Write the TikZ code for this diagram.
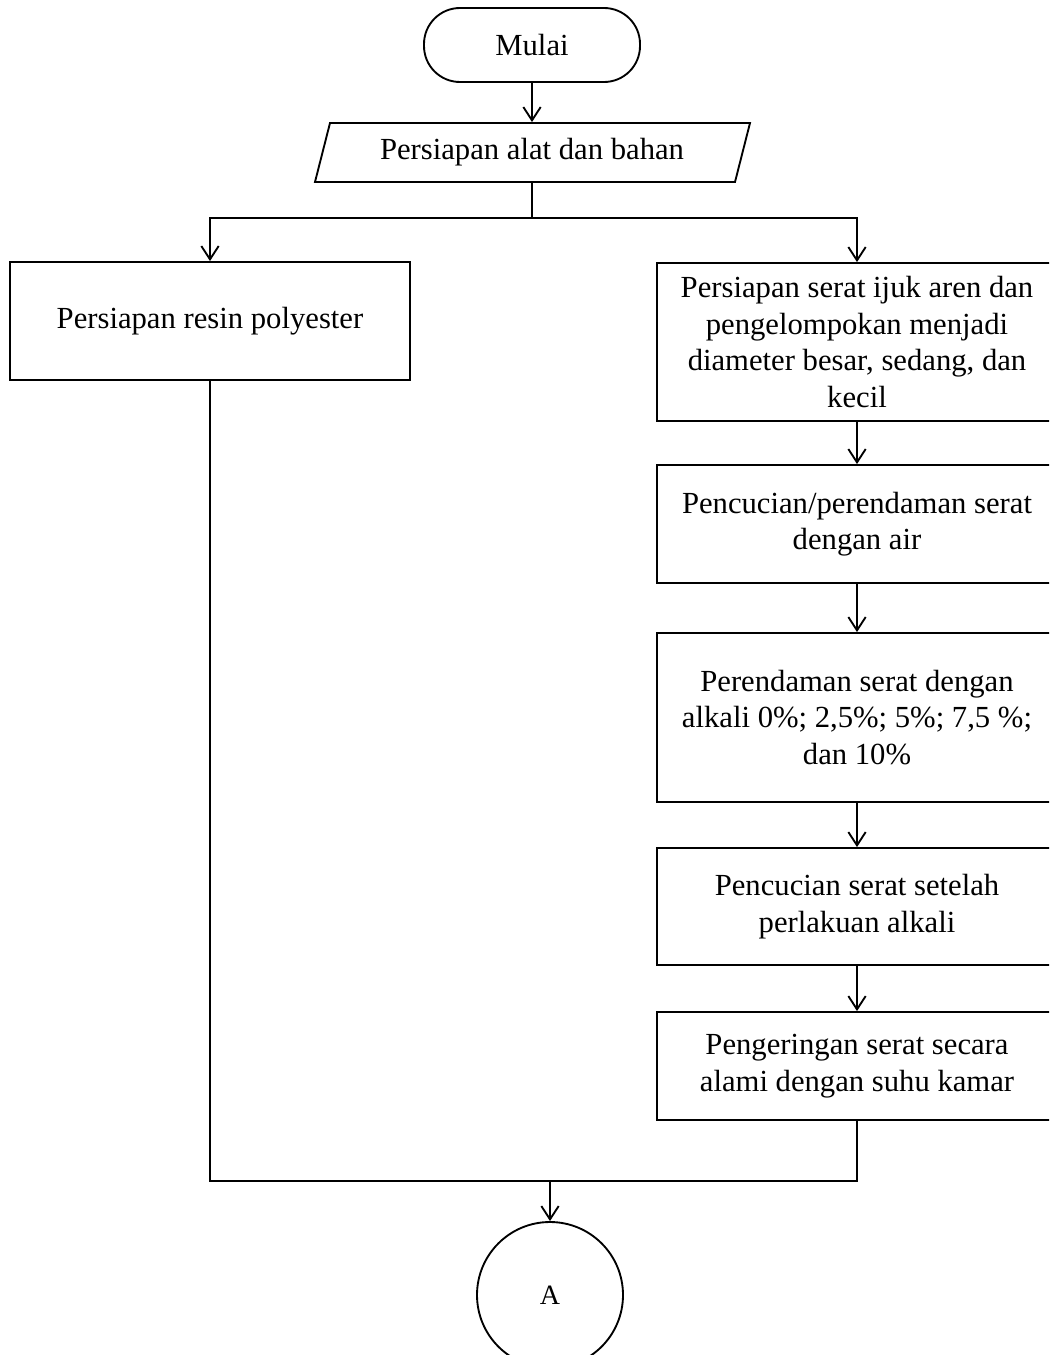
\documentclass[tikz,border=0pt]{standalone}
\usepackage{fontspec}
\setmainfont{Liberation Serif}
\usetikzlibrary{arrows.meta}
\begin{document}
\begin{tikzpicture}[x=0.75pt,y=-0.75pt,
  line width=1.4pt,
  arr/.style={-{Straight Barb[length=10pt,width=13pt,line width=1.4pt]}},
  txt/.style={font=\fontsize{23}{27.5}\selectfont, align=center, inner sep=0pt},
  box/.style={txt, draw, rectangle, minimum width=300pt},
  term/.style={txt, draw, rectangle, rounded corners=27pt, minimum width=162pt, minimum height=55.5pt},
  conn/.style={txt, draw, circle, minimum size=109.5pt, font=\fontsize{21}{25}\selectfont}
]
\useasboundingbox (0,0) rectangle (1049,1355);
\clip (0,0) rectangle (1049,1355);

\node[term] (mulai) at (532,45) {Mulai};

\node[txt, minimum width=315pt, minimum height=44.25pt] (par) at (532,152.5) {Persiapan alat dan bahan};
\draw (330,123) -- (750,123) -- (735,182) -- (315,182) -- cycle;

\node[box, minimum height=88.5pt] (left) at (210,321) {Persiapan resin polyester};

\node[box, minimum height=118.5pt] (r1) at (857,342) {Persiapan serat ijuk aren dan\\pengelompokan menjadi\\diameter besar, sedang, dan\\kecil};
\node[box, minimum height=88.5pt] (r2) at (857,524) {Pencucian/perendaman serat\\dengan air};
\node[box, minimum height=126.75pt] (r3) at (857,717.5) {Perendaman serat dengan\\alkali 0\%; 2,5\%; 5\%; 7,5 \%;\\dan 10\%};
\node[box, minimum height=87.75pt] (r4) at (857,906.5) {Pencucian serat setelah\\perlakuan alkali};
\node[box, minimum height=81pt] (r5) at (857,1066) {Pengeringan serat secara\\alami dengan suhu kamar};

\node[conn] (a) at (550,1295) {A};

\coordinate (split) at (532,218);
\coordinate (join) at (550,1181);

\draw[arr] (mulai) -- (par);
\draw (par) -- (split);
\draw[arr] (split) -| (left.north);
\draw[arr] (split) -| (r1.north);
\draw[arr] (r1) -- (r2);
\draw[arr] (r2) -- (r3);
\draw[arr] (r3) -- (r4);
\draw[arr] (r4) -- (r5);
\draw (left.south) |- (join);
\draw (r5.south) |- (join);
\draw[arr] (join) -- (a.north);
\end{tikzpicture}
\end{document}
